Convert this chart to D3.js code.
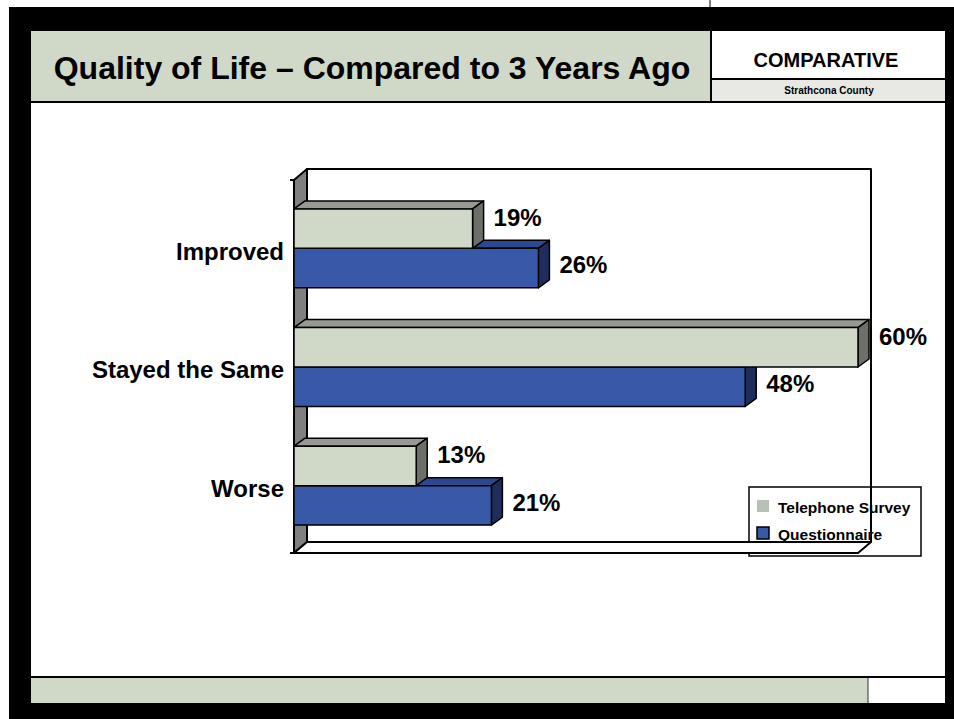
<!DOCTYPE html>
<html>
<head>
<meta charset="utf-8">
<script src="https://cdn.jsdelivr.net/npm/d3@7"></script>
<style>
  body { margin: 0; background: #fff; }
  text { font-family: "Liberation Sans", Arial, sans-serif; font-weight: bold; fill: #000; }
</style>
</head>
<body>
<div id="chart"></div>
<script>
// chart data
var categories = ["Improved", "Stayed the Same", "Worse"];
var seriesNames = ["Telephone Survey", "Questionnaire"];
var telephone = [19, 60, 13];
var questionnaire = [26, 48, 21];
var xMax = 60;

var titleText = "Quality of Life \u2013 Compared to 3 Years Ago";
var badgeText = "COMPARATIVE";
var badgeSub = "Strathcona County";

var W = 954, H = 719;

var colors = {
  face: ["#d0d8c8", "#3859a8"],
  top: ["#979a94", "#2c4890"],
  side: ["#6c7068", "#1f2d5c"],
  legend: ["#b8c2b4", "#3859a8"]
};

var svg = d3.select("#chart").append("svg")
  .attr("width", W)
  .attr("height", H);

// slide frame
svg.append("rect").attr("x", 9).attr("y", 7).attr("width", W - 9).attr("height", H - 7).attr("fill", "#000");
svg.append("rect").attr("x", 31).attr("y", 31).attr("width", 914).attr("height", 672).attr("fill", "#fff");
svg.append("line").attr("x1", 710).attr("x2", 710).attr("y1", 0).attr("y2", 7).attr("stroke", "#000");

// header
svg.append("rect").attr("x", 31).attr("y", 31).attr("width", 680).attr("height", 71).attr("fill", "#d0d8c8");
svg.append("rect").attr("x", 711).attr("y", 79).attr("width", 234).attr("height", 23).attr("fill", "#e8e9e4");
svg.append("line").attr("x1", 711).attr("x2", 711).attr("y1", 31).attr("y2", 102).attr("stroke", "#000").attr("stroke-width", 2);
svg.append("line").attr("x1", 711).attr("x2", 945).attr("y1", 79).attr("y2", 79).attr("stroke", "#000").attr("stroke-width", 2);
svg.append("line").attr("x1", 31).attr("x2", 945).attr("y1", 102).attr("y2", 102).attr("stroke", "#000").attr("stroke-width", 2);

svg.append("text").attr("x", 372).attr("y", 79).attr("text-anchor", "middle")
  .style("font-size", "32px").text(titleText);
svg.append("text").attr("x", 826).attr("y", 67).attr("text-anchor", "middle")
  .style("font-size", "20px").text(badgeText);
svg.append("text").attr("x", 829).attr("y", 94).attr("text-anchor", "middle")
  .style("font-size", "10px").text(badgeSub);

// footer
svg.append("line").attr("x1", 9).attr("x2", 945).attr("y1", 677).attr("y2", 677).attr("stroke", "#000").attr("stroke-width", 2);
svg.append("rect").attr("x", 31).attr("y", 678).attr("width", 837).attr("height", 25).attr("fill", "#d0d8c8");
svg.append("line").attr("x1", 868).attr("x2", 868).attr("y1", 678).attr("y2", 703).attr("stroke", "#333");

// 3d chart geometry
var front = { left: 294, right: 858, top: 180, bottom: 553 };
var wallDx = 13, wallDy = -11;
var barDx = 11, barDy = -8;

var x = d3.scaleLinear().domain([0, xMax]).range([front.left, front.right]);
var y = d3.scaleBand().domain(categories).range([189, 545]).paddingInner(0.335).paddingOuter(0.1675);
var ySub = d3.scaleBand().domain(seriesNames).range([0, y.bandwidth()]);

var rows = [];
categories.forEach(function (c, i) {
  rows.push({ cat: c, s: 0, v: telephone[i] });
  rows.push({ cat: c, s: 1, v: questionnaire[i] });
});

// legend (no fill, chart lines run over it)
var legend = svg.append("g");
legend.append("rect").attr("x", 749).attr("y", 487).attr("width", 172).attr("height", 69)
  .attr("fill", "none").attr("stroke", "#000").attr("stroke-width", 1.5);
seriesNames.forEach(function (n, i) {
  legend.append("rect").attr("x", 757).attr("y", 500 + i * 27).attr("width", 12).attr("height", 12)
    .attr("fill", colors.legend[i])
    .attr("stroke", i === 1 ? "#000" : "none").attr("stroke-width", 1.5);
  legend.append("text").attr("x", 778).attr("y", 513 + i * 27)
    .style("font-size", "15.5px").text(n);
});

var plot = svg.append("g").attr("stroke", "#000").attr("stroke-linejoin", "round");

// back wall
plot.append("rect")
  .attr("x", front.left + wallDx).attr("y", front.top + wallDy)
  .attr("width", front.right - front.left).attr("height", front.bottom - front.top)
  .attr("fill", "none").attr("stroke-width", 2);

// left wall
plot.append("path")
  .attr("d", d3.line()([[front.left, front.top], [front.left + wallDx, front.top + wallDy],
    [front.left + wallDx, front.bottom + wallDy], [front.left, front.bottom]]) + "Z")
  .attr("fill", "#808080").attr("stroke-width", 2);

// floor
plot.append("path")
  .attr("d", d3.line()([[front.left, front.bottom], [front.left + wallDx, front.bottom + wallDy],
    [front.right + wallDx, front.bottom + wallDy], [front.right, front.bottom]]) + "Z")
  .attr("fill", "#fff").attr("stroke-width", 2);
plot.append("line").attr("x1", front.left - 4).attr("x2", front.left).attr("y1", front.bottom).attr("y2", front.bottom).attr("stroke-width", 2);
plot.append("line").attr("x1", front.left - 4).attr("x2", front.left).attr("y1", front.top).attr("y2", front.top).attr("stroke-width", 2);

// bars: lower bar of each pair first so the upper one covers its top face
var bars = plot.selectAll("g.bar")
  .data(rows.slice().reverse())
  .enter().append("g").attr("class", "bar")
  .attr("stroke-width", 1.5);

function barTop(d) { return y(d.cat) + ySub(seriesNames[d.s]); }

bars.append("path")
  .attr("d", function (d) {
    var x0 = x(0), x1 = x(d.v), y0 = barTop(d);
    return d3.line()([[x0, y0], [x0 + barDx, y0 + barDy], [x1 + barDx, y0 + barDy], [x1, y0]]) + "Z";
  })
  .attr("fill", function (d) { return colors.top[d.s]; });

bars.append("path")
  .attr("d", function (d) {
    var x1 = x(d.v), y0 = barTop(d), y1 = y0 + ySub.bandwidth();
    return d3.line()([[x1, y0], [x1 + barDx, y0 + barDy], [x1 + barDx, y1 + barDy], [x1, y1]]) + "Z";
  })
  .attr("fill", function (d) { return colors.side[d.s]; });

bars.append("rect")
  .attr("x", x(0))
  .attr("y", barTop)
  .attr("width", function (d) { return x(d.v) - x(0); })
  .attr("height", ySub.bandwidth())
  .attr("fill", function (d) { return colors.face[d.s]; });

// category labels
svg.selectAll("text.cat")
  .data(categories)
  .enter().append("text").attr("class", "cat")
  .attr("x", 284)
  .attr("y", function (d) { return y(d) + y.bandwidth() / 2 + 5; })
  .attr("text-anchor", "end")
  .attr("dominant-baseline", "middle")
  .style("font-size", "24px")
  .text(function (d) { return d; });

// value labels
svg.selectAll("text.val")
  .data(rows)
  .enter().append("text").attr("class", "val")
  .attr("x", function (d) { return x(d.v) + barDx + 10; })
  .attr("y", function (d) { return barTop(d) + ySub.bandwidth() / 2 + (d.s === 0 ? -9 : -1); })
  .attr("dominant-baseline", "middle")
  .style("font-size", "24px")
  .text(function (d) { return d.v + "%"; });
</script>
</body>
</html>
